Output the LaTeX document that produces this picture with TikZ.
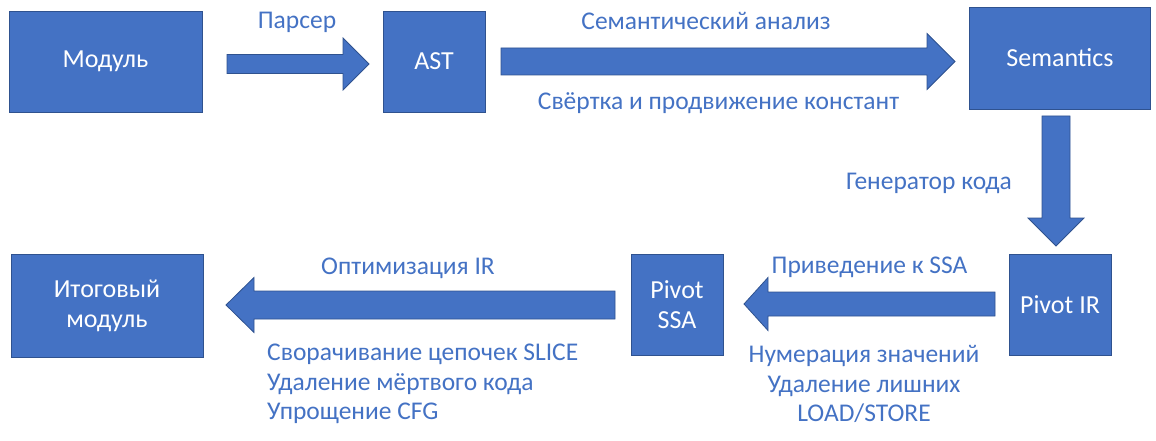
\documentclass[tikz,border=0pt]{standalone}
\usepackage{fontspec}
\setmainfont{Carlito}
\usetikzlibrary{calc}
\definecolor{boxblue}{RGB}{68,114,196}
\definecolor{edgeblue}{RGB}{47,82,143}

\newcommand\blockarrow[5]{%
  \coordinate (neck) at ($(#2)!#5!(#1)$);
  \filldraw[arrowbody] ($(#1)!#3!90:(#2)$) -- ($(neck)!#3!90:(#2)$) -- ($(neck)!#4!90:(#2)$)
    -- (#2) -- ($(neck)!#4!-90:(#2)$) -- ($(neck)!#3!-90:(#2)$) -- ($(#1)!#3!-90:(#2)$) -- cycle;}

\begin{document}
\begin{tikzpicture}[x=1pt,y=-1pt,
  box/.style={draw=edgeblue,line width=0.8pt,fill=boxblue,text=white,align=center,inner sep=0pt,
    font=\fontsize{26}{30}\selectfont},
  lbl/.style={text=boxblue,inner sep=0pt,font=\fontsize{25.5}{29.5}\selectfont},
  arrowbody/.style={draw=edgeblue,line width=0.8pt,fill=boxblue}]
  \useasboundingbox (0,0) rectangle (1156,441);
  \node[box,minimum width=193pt,minimum height=101pt] (modul) at (105.5,61.5) {Модуль};
  \node[box,minimum width=102pt,minimum height=101pt] (ast) at (434,61.5) {AST};
  \node[box,minimum width=181pt,minimum height=102pt] (sem) at (1060,58) {Semantics};
  \node[box,minimum width=102pt,minimum height=101pt] (pir) at (1060,304.5) {Pivot IR};
  \node[box,minimum width=92pt,minimum height=101pt] (pssa) at (677,304.5) {Pivot\\SSA};
  \node[box,minimum width=192pt,minimum height=103pt] (final) at (107,305.5) {Итоговый\\модуль};

  \coordinate (parse-s) at (227,64);
  \coordinate (parse-e) at (369,64);
  \coordinate (sema-s) at (501,61.5);
  \coordinate (sema-e) at (955,61.5);
  \coordinate (gen-s) at (1056,116);
  \coordinate (gen-e) at (1056,246);
  \coordinate (ssa-s) at (995,304);
  \coordinate (ssa-e) at (744,304);
  \coordinate (opt-s) at (615,305);
  \coordinate (opt-e) at (226,305);
  \blockarrow{parse-s}{parse-e}{9.5pt}{26pt}{26pt}
  \blockarrow{sema-s}{sema-e}{13.5pt}{28pt}{28pt}
  \blockarrow{gen-s}{gen-e}{14pt}{28pt}{28pt}
  \blockarrow{ssa-s}{ssa-e}{12pt}{26.5pt}{24pt}
  \blockarrow{opt-s}{opt-e}{14pt}{27.5pt}{28pt}

  \node[lbl] (lparser) at (297,22) {Парсер};
  \node[lbl] (lsem) at (706,21) {Семантический анализ};
  \node[lbl] (lfold) at (718.5,103) {Свёртка и продвижение констант};
  \node[lbl] (lgen) at (929,183) {Генератор кода};
  \node[lbl] (lssa) at (869.5,267) {Приведение к SSA};
  \node[lbl] (lnum) at (864,384) [align=center] {Нумерация значений\\Удаление лишних\\LOAD/STORE};
  \node[lbl] (lopt) at (408,268) {Оптимизация IR};
  \node[lbl,anchor=west] (lpass) at (267,384) [align=left] {Сворачивание цепочек SLICE\\Удаление мёртвого кода\\Упрощение CFG};
\end{tikzpicture}
\end{document}
